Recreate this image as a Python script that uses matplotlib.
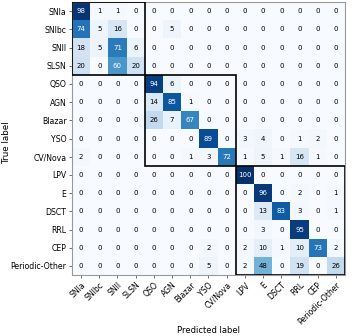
import numpy as np
import matplotlib
matplotlib.use("Agg")
import matplotlib.pyplot as plt
from matplotlib.patches import Rectangle

classes = ['SNIa', 'SNIbc', 'SNII', 'SLSN', 'QSO', 'AGN', 'Blazar', 'YSO',
           'CV/Nova', 'LPV', 'E', 'DSCT', 'RRL', 'CEP', 'Periodic-Other']

# row-normalised confusion matrix (percent)
cm = np.array([
    [98, 1, 1, 0, 0, 0, 0, 0, 0, 0, 0, 0, 0, 0, 0],
    [74, 5, 16, 0, 0, 5, 0, 0, 0, 0, 0, 0, 0, 0, 0],
    [18, 5, 71, 6, 0, 0, 0, 0, 0, 0, 0, 0, 0, 0, 0],
    [20, 0, 60, 20, 0, 0, 0, 0, 0, 0, 0, 0, 0, 0, 0],
    [0, 0, 0, 0, 94, 6, 0, 0, 0, 0, 0, 0, 0, 0, 0],
    [0, 0, 0, 0, 14, 85, 1, 0, 0, 0, 0, 0, 0, 0, 0],
    [0, 0, 0, 0, 26, 7, 67, 0, 0, 0, 0, 0, 0, 0, 0],
    [0, 0, 0, 0, 0, 0, 0, 89, 0, 3, 4, 0, 1, 2, 0],
    [2, 0, 0, 0, 0, 0, 1, 3, 72, 1, 5, 1, 16, 1, 0],
    [0, 0, 0, 0, 0, 0, 0, 0, 0, 100, 0, 0, 0, 0, 0],
    [0, 0, 0, 0, 0, 0, 0, 0, 0, 0, 96, 0, 2, 0, 1],
    [0, 0, 0, 0, 0, 0, 0, 0, 0, 0, 13, 83, 3, 0, 1],
    [0, 0, 0, 0, 0, 0, 0, 0, 0, 0, 3, 0, 95, 0, 0],
    [0, 0, 0, 0, 0, 0, 0, 2, 0, 2, 10, 1, 10, 73, 2],
    [0, 0, 0, 0, 0, 0, 0, 5, 0, 2, 48, 0, 19, 0, 26],
])

# hierarchical groups: (first index, last index)
groups = [(0, 3), (4, 8), (9, 14)]

fig = plt.figure(figsize=(3.61, 3.36), dpi=100)
ax = fig.add_axes([0.1994, 0.1815, 0.7562, 0.8125])

ax.imshow(cm, interpolation='nearest', cmap='Blues', vmin=0, vmax=100, aspect='auto')

thresh = cm.max() / 2.
for i in range(cm.shape[0]):
    for j in range(cm.shape[1]):
        ax.text(j, i, f'{cm[i, j]:d}', ha='center', va='center', fontsize=5,
                color='white' if cm[i, j] > thresh else 'black')

for a, b in groups:
    ax.add_patch(Rectangle((a - 0.5, a - 0.5), b - a + 1, b - a + 1,
                           fill=False, edgecolor='black', linewidth=1.2, zorder=5))

ticks = np.arange(len(classes))
ax.set_xticks(ticks)
ax.set_xticklabels(classes, rotation=45, ha='right', rotation_mode='anchor', fontsize=5.6)
ax.set_yticks(ticks)
ax.set_yticklabels(classes, fontsize=5.6)
ax.tick_params(length=2.5, width=0.6, color='#555555', pad=1.5)
for s in ax.spines.values():
    s.set_color('#999999')
    s.set_linewidth(0.8)

ax.set_xlim(-0.5, 14.5)
ax.set_ylim(14.5, -0.5)
ax.set_xlabel('Predicted label', fontsize=6)
ax.set_ylabel('True label', fontsize=6.3)
ax.xaxis.set_label_coords(0.5, -0.185)
ax.yaxis.set_label_coords(-0.222, 0.485)

fig.savefig('out.png', dpi=100)
